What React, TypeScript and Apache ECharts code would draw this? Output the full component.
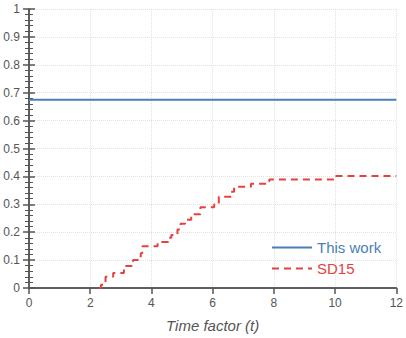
import React, { useEffect, useRef } from "react";
import * as echarts from "echarts";

const xTicks = [0, 2, 4, 6, 8, 10, 12];
const thisWorkX = [0, 12];
const thisWorkY = [0.675, 0.675];
const sdX = [2.3, 2.35, 2.5, 2.75, 3.1, 3.4, 3.65, 3.7, 4.2, 4.55, 4.65, 4.85, 4.95, 5.1, 5.3, 5.6, 6.05, 6.2, 6.6, 6.7, 7.25, 7.75, 7.85, 10.0, 12.0];
const sdY = [0, 0.012, 0.04, 0.054, 0.079, 0.1, 0.125, 0.15, 0.165, 0.18, 0.19, 0.21, 0.23, 0.245, 0.264, 0.289, 0.3, 0.327, 0.345, 0.363, 0.374, 0.383, 0.389, 0.401, 0.401];

const BLUE = "#4b7fb3";
const RED = "#e8403f";
const FONT = "Liberation Sans";

export default function App() {
  const ref = useRef<HTMLDivElement>(null);
  useEffect(() => {
    const chart = echarts.init(ref.current!, null, { renderer: "svg" });
    const axisLine = { show: true, lineStyle: { color: "#555", width: 1.5 } };
    chart.setOption({
      animation: false,
      grid: { left: 29, right: 9, top: 9, bottom: 46 },
      legend: {
        orient: "vertical",
        left: 266,
        top: 235,
        itemWidth: 40,
        itemHeight: 14,
        itemGap: 6,
        itemStyle: { opacity: 0 },
        textStyle: { fontFamily: FONT, fontSize: 15 },
        data: [
          { name: "This work", textStyle: { color: BLUE } },
          { name: "SD15", textStyle: { color: RED } },
        ],
      },
      xAxis: [
        {
          type: "value",
          min: xTicks[0],
          max: xTicks[xTicks.length - 1],
          interval: 2,
          axisLine,
          axisTick: { show: true, inside: false, length: 6, lineStyle: { color: "#555", width: 1.5 } },
          axisLabel: { color: "#555", fontFamily: FONT, fontSize: 12, margin: 9 },
          splitLine: { show: true, lineStyle: { color: "#e2e2e2", type: "dotted", width: 1 } },
          name: "Time factor (t)",
          nameLocation: "middle",
          nameGap: 30,
          nameTextStyle: { color: "#555", fontFamily: FONT, fontSize: 15, fontStyle: "italic" },
        },
        {
          type: "value",
          position: "top",
          min: 0,
          max: 12,
          interval: 2,
          axisLine,
          axisTick: { show: false },
          axisLabel: { show: false },
          splitLine: { show: false },
        },
      ],
      yAxis: [
        {
          type: "value",
          min: 0,
          max: 1,
          interval: 0.1,
          axisLine,
          axisTick: { show: true, inside: false, length: 6, lineStyle: { color: "#555", width: 1.5 } },
          minorTick: { show: true, splitNumber: 5, length: 4, lineStyle: { color: "#555", width: 1 } },
          axisLabel: {
            color: "#555",
            fontFamily: FONT,
            fontSize: 12,
            margin: 9,
            formatter: (v: number) => (v === 0 ? "0" : v === 1 ? "1" : v.toFixed(1)),
          },
          splitLine: { show: true, lineStyle: { color: "#e2e2e2", type: "dotted", width: 1 } },
        },
        {
          type: "value",
          position: "right",
          min: 0,
          max: 1,
          interval: 0.1,
          axisLine,
          axisTick: { show: true, inside: false, length: 6, lineStyle: { color: "#555", width: 1.5 } },
          minorTick: { show: true, splitNumber: 5, length: 4, lineStyle: { color: "#555", width: 1 } },
          axisLabel: { show: false },
          splitLine: { show: false },
        },
      ],
      series: [
        {
          name: "This work",
          type: "line",
          symbol: "none",
          data: thisWorkX.map((x, i) => [x, thisWorkY[i]]),
          lineStyle: { color: BLUE, width: 2 },
          itemStyle: { color: BLUE },
        },
        {
          name: "SD15",
          type: "line",
          symbol: "none",
          step: "end",
          data: sdX.map((x, i) => [x, sdY[i]]),
          lineStyle: { color: RED, width: 2, type: [7, 5] },
          itemStyle: { color: RED },
        },
      ],
    });
    return () => chart.dispose();
  }, []);
  return <div ref={ref} style={{ width: 406, height: 338, position: "absolute", left: 0, top: 0 }} />;
}
